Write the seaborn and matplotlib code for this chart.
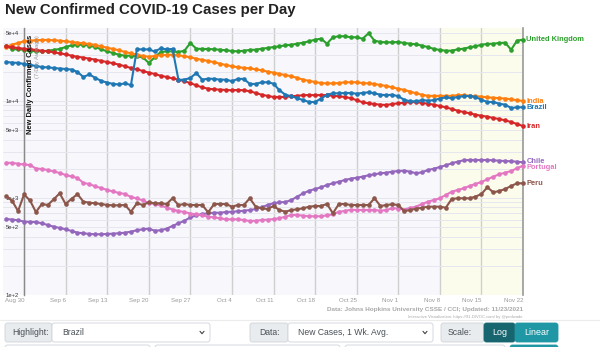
import matplotlib
matplotlib.use("Agg")
import numpy as np
import pandas as pd
import matplotlib.pyplot as plt
import matplotlib.dates as mdates
from matplotlib.patches import FancyBboxPatch
from matplotlib.ticker import LogLocator, FixedLocator, NullFormatter
import seaborn as sns

# ---- data: 7-day average of new confirmed cases, Aug 27 - Nov 22, 2021 ----
start_date = "2021-08-27"

united_kingdom = [36900, 34400, 34000, 33800, 33000, 32500, 32500, 33000, 33600, 34400,
                  36000, 37500, 38000, 38000, 37200, 36000, 34100, 32500, 31200, 30000,
                  29300, 29300, 28900, 28200, 24700, 28200, 32000, 32500, 32500, 32000,
                  33000, 39600, 34600, 34400, 34400, 34100, 33800, 33300, 32800, 32500,
                  33000, 33600, 33800, 34600, 35200, 36000, 36600, 37500, 38000, 39000,
                  39900, 41300, 42900, 43900, 39000, 45400, 46500, 46500, 45400, 45400,
                  43900, 49900, 41900, 40600, 40300, 40300, 40600, 39600, 39000, 38400,
                  37200, 36000, 34400, 33600, 33000, 33000, 34100, 34600, 35800, 36600,
                  38000, 38700, 39000, 39600, 39900, 33800, 41900, 42900]
india = [36000, 38200, 39600, 41300, 41900, 42300, 42600, 42600, 42300, 41900,
         41300, 40600, 39900, 39300, 38700, 37800, 36600, 35400, 34400, 33300,
         32000, 31000, 30000, 29100, 28600, 29100, 29600, 29800, 30000, 29600,
         28900, 28200, 27300, 26500, 25900, 25100, 24200, 23500, 22800, 22300,
         22000, 21700, 21200, 20700, 20100, 19600, 19000, 18500, 18000, 17300,
         16600, 16100, 15700, 15300, 15200, 15200, 15300, 15600, 15600, 15600,
         15300, 15200, 15000, 14600, 14300, 13800, 13400, 13000, 12500, 12000,
         11600, 11300, 11300, 11300, 11300, 11300, 11500, 11500, 11300, 11200,
         11100, 10900, 10800, 10700, 10600, 10400, 10200, 10000]
brazil = [25200, 24900, 24700, 24100, 23500, 23000, 22400, 22200, 21900, 21600,
          21400, 21100, 19900, 17700, 18800, 17300, 16100, 15500, 15000, 14800,
          15200, 14600, 34100, 34100, 34000, 32400, 34800, 34100, 34400, 16500,
          16600, 17300, 19400, 16600, 17000, 16900, 16600, 16600, 16000, 16900,
          16900, 15000, 15000, 15600, 15600, 15100, 12900, 11600, 11200, 10700,
          10200, 9770, 9770, 10600, 11600, 12000, 12000, 12100, 12100, 11900,
          12100, 12300, 12000, 11600, 11500, 11600, 11200, 10300, 9930, 9930,
          10200, 10100, 10200, 10600, 10900, 10700, 11000, 11200, 11300, 11000,
          10300, 9770, 9770, 9380, 9160, 8470, 8610, 8610]
iran = [36500, 35800, 35200, 34600, 34100, 33600, 33000, 32500, 31800, 31000,
        30300, 29300, 28600, 28000, 27300, 26700, 25900, 25200, 24500, 23700,
        22800, 21900, 21200, 20400, 19600, 19000, 18200, 17700, 17100, 16600,
        16000, 15300, 14500, 13800, 13400, 13200, 13100, 13000, 12900, 13000,
        12900, 12600, 12100, 11600, 11300, 11000, 11000, 11000, 11200, 11300,
        11500, 11500, 11500, 11500, 11500, 11300, 11200, 11000, 10700, 10200,
        9700, 9470, 9310, 9160, 9100, 9310, 9470, 9600, 9770, 9770,
        9540, 9380, 9160, 8880, 8610, 8270, 7940, 7700, 7470, 7220,
        7050, 6890, 6680, 6520, 6320, 6070, 5790, 5520]
chile = [607, 600, 589, 572, 566, 566, 548, 527, 506, 491,
         476, 457, 439, 433, 426, 423, 423, 426, 429, 433,
         439, 450, 465, 476, 483, 460, 465, 483, 515, 548,
         583, 630, 663, 684, 696, 705, 705, 717, 722, 729,
         740, 752, 770, 802, 847, 882, 903, 909, 954, 1032,
         1118, 1189, 1238, 1289, 1362, 1418, 1472, 1533, 1581, 1619,
         1659, 1715, 1756, 1798, 1824, 1868, 1898, 1912, 1868, 1798,
         1841, 1944, 2005, 2087, 2173, 2279, 2368, 2447, 2465, 2465,
         2465, 2465, 2447, 2424, 2407, 2390, 2368, 2334]
portugal = [2312, 2296, 2258, 2215, 2189, 2014, 1991, 1944, 1876, 1810,
            1727, 1667, 1608, 1428, 1395, 1314, 1268, 1209, 1167, 1126,
            1100, 1024, 989, 943, 888, 867, 837, 798, 761, 734,
            717, 692, 679, 663, 642, 630, 618, 603, 603, 603,
            593, 579, 583, 593, 597, 607, 618, 642, 668, 668,
            657, 648, 648, 648, 663, 679, 722, 734, 757, 752,
            752, 752, 752, 740, 752, 783, 779, 761, 789, 814,
            867, 916, 954, 993, 1074, 1161, 1209, 1259, 1330, 1395,
            1463, 1559, 1659, 1756, 1824, 1898, 2024, 2153]
peru = [1049, 932, 734, 1087, 943, 717, 867, 847, 970, 1118,
        867, 982, 1095, 916, 895, 882, 867, 847, 841, 841,
        847, 722, 882, 847, 903, 882, 882, 867, 993, 847,
        867, 847, 847, 847, 712, 867, 867, 867, 814, 847,
        847, 993, 814, 783, 770, 827, 752, 722, 752, 765,
        783, 814, 827, 827, 867, 696, 867, 867, 847, 847,
        847, 847, 993, 827, 847, 861, 847, 734, 752, 776,
        794, 814, 814, 814, 794, 977, 993, 993, 993, 1032,
        1100, 1289, 1145, 1181, 1238, 1330, 1418, 1418]

series = {
    "United Kingdom": united_kingdom,
    "India": india,
    "Iran": iran,
    "Chile": chile,
    "Portugal": portugal,
    "Peru": peru,
    "Brazil": brazil,
}
palette = {
    "United Kingdom": "#2ca02c",
    "India": "#ff7f0e",
    "Brazil": "#1f77b4",
    "Iran": "#d62728",
    "Chile": "#9467bd",
    "Portugal": "#e377c2",
    "Peru": "#8c564b",
}
# vertical nudges (points) for end labels that would collide
label_nudge = {"Chile": 0.6, "Portugal": -1.2}

y_tick_values = [100, 500, 1000, 5000, 10000, 50000]
y_tick_labels = ["1e+2", "5e+2", "1e+3", "5e+3", "1e+4", "5e+4"]

dates = pd.date_range(start_date, periods=88, freq="D")
df = pd.concat(
    [pd.DataFrame({"date": dates, "cases": vals, "country": name})
     for name, vals in series.items()],
    ignore_index=True,
)

# ---- figure ----
sns.set_theme(style="white")
plt.rcParams["font.family"] = ["Liberation Sans", "DejaVu Sans"]

W, H = 600, 347
fig = plt.figure(figsize=(W / 100, H / 100), dpi=100)
fig.patch.set_facecolor("white")

ax = fig.add_axes([3 / W, 52 / H, 520 / W, 267 / H])
ax.set_facecolor("#f8f8fc")
ax.set_yscale("log")

first_tick = pd.Timestamp("2021-08-30")
last_tick = pd.Timestamp("2021-11-22")
ax.set_xlim(first_tick - pd.Timedelta(days=3.54), last_tick)
ax.set_ylim(100, 56570)

# recent-data shading
ax.axvspan(pd.Timestamp("2021-11-08"), last_tick, color="#fcfcec", zorder=0.1, lw=0)

sns.lineplot(
    data=df, x="date", y="cases", hue="country",
    hue_order=list(series.keys()), palette=palette,
    estimator=None, legend=False, ax=ax,
    linewidth=1.5, marker="o", markersize=3.3, markeredgewidth=0,
    clip_on=False, zorder=3,
)

# grid
week_ticks = pd.date_range(first_tick, last_tick, freq="7D")
ax.set_xticks(week_ticks)
ax.set_xticklabels([f"{d.strftime('%b')} {d.day}" for d in week_ticks])
for lbl in ax.get_xticklabels():
    lbl.set_horizontalalignment("right")
ax.tick_params(axis="x", length=0, pad=2, labelsize=4.4, labelcolor="#9a9a9a")

ax.yaxis.set_major_locator(FixedLocator(y_tick_values))
ax.set_yticklabels(y_tick_labels)
ax.yaxis.set_minor_locator(LogLocator(base=10, subs=range(2, 10)))
ax.yaxis.set_minor_formatter(NullFormatter())
ax.tick_params(axis="y", which="major", direction="out", length=2.5, width=0.6,
               color="#555555", labelsize=4.2, pad=1, labelcolor="#333333")
ax.tick_params(axis="y", which="minor", length=0)

ax.set_axisbelow(True)
ax.grid(axis="x", which="major", color="#cfcfcf", lw=1.0)
ax.grid(axis="y", which="both", color="#e6e6ef", lw=0.7)

ax.set_xlabel("")
ax.set_ylabel("")
for s in ["top", "bottom"]:
    ax.spines[s].set_visible(False)
ax.spines["left"].set_position(("data", mdates.date2num(first_tick)))
ax.spines["left"].set_color("#8a8a8a")
ax.spines["left"].set_linewidth(1.0)
ax.spines["right"].set_color("#9a9a9a")
ax.spines["right"].set_linewidth(1.2)

# end-of-line country labels
for name, vals in series.items():
    ax.annotate(name, xy=(last_tick, vals[-1]), xytext=(2.5, label_nudge.get(name, 0)),
                textcoords="offset points", color=palette[name], fontsize=5.4,
                fontweight="bold", va="center", ha="left", annotation_clip=False)

# ---- page furniture in pixel coordinates ----
ui = fig.add_axes([0, 0, 1, 1], zorder=-1)
ui.set_xlim(0, W)
ui.set_ylim(H, 0)
ui.axis("off")

ui.text(5, 10, "New Confirmed COVID-19 Cases per Day", fontsize=10.8,
        fontweight="bold", color="#222222", va="center", ha="left")

fig.text(30 / W, 1 - 35 / H, "New Daily Confirmed Cases", rotation=90,
         fontsize=5.4, fontweight="bold", color="#111111", ha="center", va="top")
fig.text(37.5 / W, 1 - 35 / H, "(7-Day Average)", rotation=90,
         fontsize=4.2, color="#999999", ha="center", va="top")

ui.text(523, 310, "Data: Johns Hopkins University CSSE / CCI; Updated: 11/23/2021",
        fontsize=4.6, color="#a9a9a9", fontweight="bold", ha="right", va="center")
ui.text(523, 317, "Interactive Visualization: https://91-DIVOC.com/ by @profwade",
        fontsize=3.0, color="#a9a9a9", ha="right", va="center")

ui.plot([0, W], [320, 320], color="#ececec", lw=0.8)


def box(x0, y0, x1, y1, fc, ec="#ced4da"):
    ui.add_patch(FancyBboxPatch((x0, y0), x1 - x0, y1 - y0,
                                boxstyle="round,pad=0,rounding_size=2.5",
                                fc=fc, ec=ec, lw=0.6))


def chevron(xc, yc):
    ui.plot([xc - 2, xc, xc + 2], [yc - 1.2, yc + 1.2, yc - 1.2],
            color="#444444", lw=0.8, solid_capstyle="round")


row_top, row_bot = 323, 342
row_mid = (row_top + row_bot) / 2
ctrl = dict(fontsize=6.2, color="#495057", va="center")

box(5, row_top, 52, row_bot, "#e9ecef")
ui.text(12, row_mid, "Highlight:", **ctrl)
box(52, row_top, 210, row_bot, "white")
ui.text(62, row_mid, "Brazil", **ctrl)
chevron(202, row_mid)

box(250, row_top, 288, row_bot, "#e9ecef")
ui.text(259, row_mid, "Data:", **ctrl)
box(288, row_top, 433, row_bot, "white")
ui.text(298, row_mid, "New Cases, 1 Wk. Avg.", **ctrl)
chevron(425, row_mid)

box(441, row_top, 484, row_bot, "#e9ecef")
ui.text(448, row_mid, "Scale:", **ctrl)
box(484, row_top, 515, row_bot, "#17656f", ec="#17656f")
ui.text(499.5, row_mid, "Log", fontsize=6.4, color="white", ha="center", va="center")
box(515, row_top, 558, row_bot, "#2097a5", ec="#2097a5")
ui.text(536.5, row_mid, "Linear", fontsize=6.4, color="white", ha="center", va="center")

# next row of controls, cut by the page edge
box(5, 345, 150, 362, "white")
box(155, 345, 340, 362, "white")
box(345, 345, 505, 362, "white")
box(510, 345, 558, 362, "#2097a5", ec="#2097a5")

fig.savefig("out.png", dpi=100, facecolor="white")
